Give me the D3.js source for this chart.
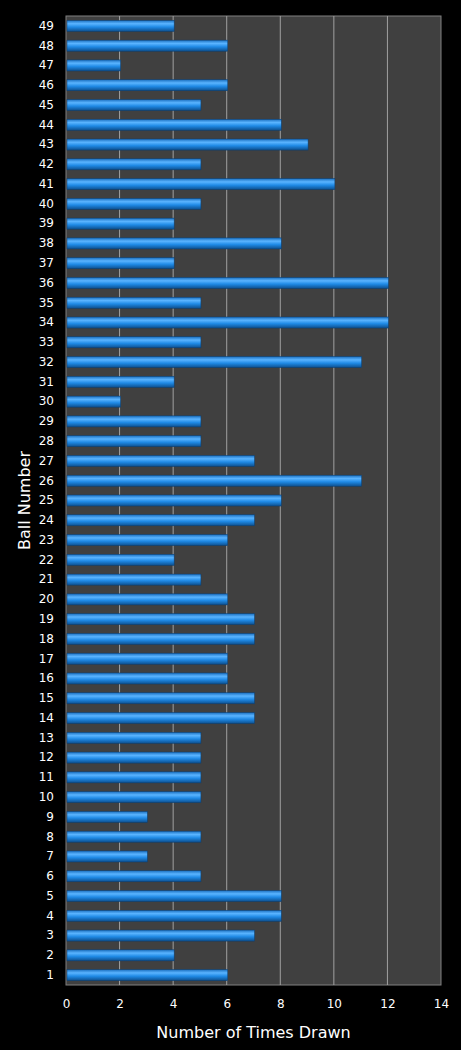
<!DOCTYPE html>
<html><head><meta charset="utf-8">
<script src="https://cdn.jsdelivr.net/npm/d3@7"></script>
<style>body{margin:0;background:#000}</style></head>
<body><svg id="chart" width="461" height="1050"></svg>
<script>
// ball numbers 1..49 and times drawn
const balls = d3.range(1, 50);
const timesDrawn = [6,4,7,8,8,5,3,5,3,5,5,5,5,7,7,6,6,7,7,6,5,4,6,7,8,11,7,5,5,2,4,11,5,12,5,12,4,8,4,5,10,5,9,8,5,6,2,6,4];
const xTicks = [0,2,4,6,8,10,12,14];

const margin = {top: 16, right: 20, bottom: 65, left: 66};
const width = 461, height = 1050;
const svg = d3.select('#chart');

const x = d3.scaleLinear().domain([0, 14]).range([margin.left, width - margin.right]);
const y = d3.scaleBand().domain(balls.slice().reverse()).range([margin.top, height - margin.bottom]).paddingInner(0.44).paddingOuter(0.22);

const defs = svg.append('defs');
const grad = defs.append('linearGradient').attr('id', 'barGrad').attr('x1', 0).attr('y1', 0).attr('x2', 0).attr('y2', 1);
grad.append('stop').attr('offset', '0%').attr('stop-color', '#1a6fc0');
grad.append('stop').attr('offset', '30%').attr('stop-color', '#5ab4ff');
grad.append('stop').attr('offset', '60%').attr('stop-color', '#1f8ae6');
grad.append('stop').attr('offset', '100%').attr('stop-color', '#0d4f8e');

svg.append('rect')
    .attr('x', x(0)).attr('y', margin.top)
    .attr('width', x(14) - x(0)).attr('height', height - margin.bottom - margin.top)
    .attr('fill', '#404040').attr('stroke', '#808080');

svg.append('g').selectAll('line')
    .data(xTicks.slice(1, -1))
    .enter().append('line')
    .attr('x1', d => x(d)).attr('x2', d => x(d))
    .attr('y1', margin.top).attr('y2', height - margin.bottom)
    .attr('stroke', '#a0a0a0').attr('stroke-width', 1);

svg.append('g').selectAll('rect')
    .data(balls)
    .enter().append('rect')
    .attr('x', x(0) + 1)
    .attr('y', d => y(d))
    .attr('width', d => x(timesDrawn[d - 1]) - x(0))
    .attr('height', y.bandwidth())
    .attr('fill', 'url(#barGrad)')
    .attr('stroke', '#0b3e70').attr('stroke-width', 0.5);

const xAxis = svg.append('g')
    .attr('transform', `translate(0,${height - margin.bottom})`)
    .call(d3.axisBottom(x).tickValues(xTicks).tickSize(0).tickPadding(14));
const yAxis = svg.append('g')
    .attr('transform', `translate(${margin.left},0)`)
    .call(d3.axisLeft(y).tickSize(0).tickPadding(12));
[xAxis, yAxis].forEach(a => {
    a.select('.domain').remove();
    a.selectAll('text').attr('fill', '#fff').style('font-family', 'DejaVu Sans').style('font-size', '12px');
});

svg.append('text')
    .attr('x', (x(0) + x(14)) / 2).attr('y', height - 12)
    .attr('text-anchor', 'middle').attr('fill', '#fff')
    .style('font-family', 'DejaVu Sans').style('font-size', '16px')
    .text('Number of Times Drawn');

svg.append('text')
    .attr('transform', `translate(30,${(margin.top + height - margin.bottom) / 2}) rotate(-90)`)
    .attr('text-anchor', 'middle').attr('fill', '#fff')
    .style('font-family', 'DejaVu Sans').style('font-size', '16px')
    .text('Ball Number');
</script></body></html>
